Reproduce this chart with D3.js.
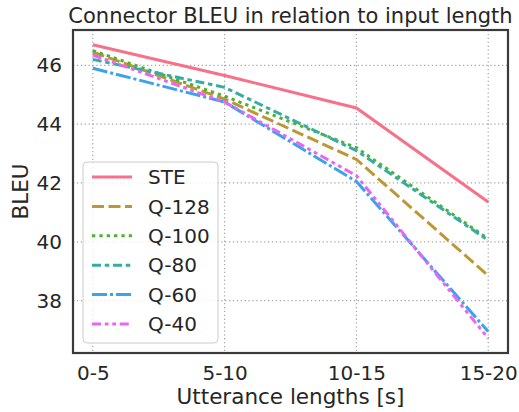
<!DOCTYPE html>
<html><head><meta charset="utf-8">
<script src="https://cdn.jsdelivr.net/npm/d3@7"></script>
<style>body{margin:0;background:#fff}svg{display:block;font-family:"DejaVu Sans",sans-serif}</style>
</head><body><svg id="c" width="519" height="412"></svg>
<script>
const categories = ["0-5", "5-10", "10-15", "15-20"];
const seriesNames = ["STE", "Q-128", "Q-100", "Q-80", "Q-60", "Q-40"];
const steValues  = [46.70, 45.65, 44.55, 41.35];
const q128Values = [46.45, 44.85, 42.80, 38.85];
const q100Values = [46.50, 44.95, 43.20, 40.10];
const q80Values  = [46.20, 45.25, 43.10, 40.05];
const q60Values  = [45.90, 44.75, 42.05, 36.95];
const q40Values  = [46.35, 44.75, 42.25, 36.72];
const yTicks = [38, 40, 42, 44, 46];
const colors = ["#f77189", "#bb9832", "#50b131", "#36ada4", "#3ba3ec", "#e866f4"];

const allValues = [steValues, q128Values, q100Values, q80Values, q60Values, q40Values];
const series = seriesNames.map((n, i) => ({name: n, values: allValues[i], color: colors[i]}));

const lw = 3.0;
const dashes = [null, [4,1.5], [1.1,1.35], [3,1.25,1.5,1.25], [5,1,1,1], [3,1.25,1.25,1.25,1.25,1.25]];
const dashStr = d => d ? d.map(v => (v*lw).toFixed(2)).join(",") : null;

const L = 73, T = 30, R = 508, B = 353;
const svg = d3.select("#c");
const textColor = "#262626";
const tickFs = 20;

const x = d3.scalePoint().domain(categories).range([L, R]).padding(0.15);
const flat = allValues.flat();
const mn = d3.min(flat), mx = d3.max(flat), pad = (mx - mn) * 0.05;
const y = d3.scaleLinear().domain([mn - pad, mx + pad]).range([B, T]);

// grid
const grid = svg.append("g").attr("stroke", "#a8a8a8").attr("stroke-width", 1.2).attr("stroke-dasharray", "1.3,2.6");
categories.forEach(c => grid.append("line").attr("x1", x(c)).attr("x2", x(c)).attr("y1", T).attr("y2", B));
yTicks.forEach(t => grid.append("line").attr("x1", L).attr("x2", R).attr("y1", y(t)).attr("y2", y(t)));

// axes (labels only, no tick marks)
const xAxis = svg.append("g").attr("transform", `translate(0,${B})`)
  .call(d3.axisBottom(x).tickSize(0).tickPadding(13));
xAxis.select(".domain").remove();
xAxis.selectAll("text").attr("font-size", tickFs).attr("fill", textColor).attr("font-family", "DejaVu Sans");
const yAxis = svg.append("g").attr("transform", `translate(${L},0)`)
  .call(d3.axisLeft(y).tickValues(yTicks).tickSize(0).tickPadding(11).tickFormat(d3.format("d")));
yAxis.select(".domain").remove();
yAxis.selectAll("text").attr("font-size", tickFs).attr("fill", textColor).attr("font-family", "DejaVu Sans");

// lines
svg.append("clipPath").attr("id", "clip").append("rect").attr("x", L).attr("y", T).attr("width", R - L).attr("height", B - T);
const line = d3.line().x((d, i) => x(categories[i])).y(d => y(d));
const lg = svg.append("g").attr("clip-path", "url(#clip)");
series.forEach((s, i) => {
  lg.append("path").attr("d", line(s.values)).attr("fill", "none")
    .attr("stroke", s.color).attr("stroke-width", lw)
    .attr("stroke-dasharray", dashStr(dashes[i]));
});

// spines
svg.append("rect").attr("x", L).attr("y", T).attr("width", R - L).attr("height", B - T)
  .attr("fill", "none").attr("stroke", "#3a3a3a").attr("stroke-width", 2.2);

// title & labels
svg.append("text").attr("x", (L + R) / 2).attr("y", 23).attr("text-anchor", "middle")
  .attr("font-size", 21).attr("fill", textColor).text("Connector BLEU in relation to input length");
svg.append("text").attr("x", (L + R) / 2).attr("y", 404).attr("text-anchor", "middle")
  .attr("font-size", 21.5).attr("fill", textColor).text("Utterance lengths [s]");
svg.append("text").attr("transform", `translate(28,${(T + B) / 2}) rotate(-90)`).attr("text-anchor", "middle")
  .attr("font-size", 21.5).attr("fill", textColor).text("BLEU");

// legend
const leg = svg.append("g");
leg.append("rect").attr("x", 83).attr("y", 162).attr("width", 135).attr("height", 181).attr("rx", 4)
  .attr("fill", "rgba(255,255,255,0.8)").attr("stroke", "#cccccc").attr("stroke-width", 1);
series.forEach((s, i) => {
  const yy = 177 + i * 29.4;
  leg.append("line").attr("x1", 92).attr("x2", 132).attr("y1", yy).attr("y2", yy)
    .attr("stroke", s.color).attr("stroke-width", lw).attr("stroke-dasharray", dashStr(dashes[i]));
  leg.append("text").attr("x", 148).attr("y", yy).attr("dy", "0.36em")
    .attr("font-size", tickFs).attr("fill", textColor).text(s.name);
});
</script></body></html>
